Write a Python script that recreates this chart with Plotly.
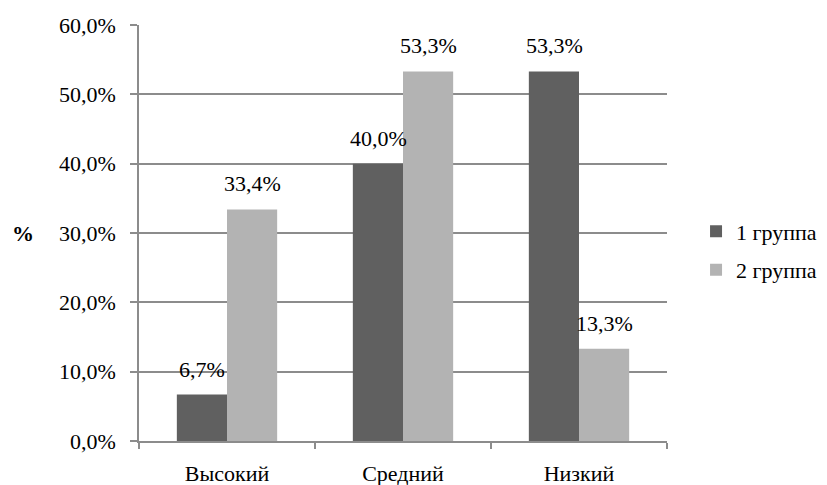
import plotly.graph_objects as go

categories = ["Высокий", "Средний", "Низкий"]
group1 = [6.7, 40.0, 53.3]
group2 = [33.4, 53.3, 13.3]
series_names = ["1 группа", "2 группа"]
colors = ["#606060", "#b3b3b3"]
y_ticks = [0, 10, 20, 30, 40, 50, 60]
y_tick_labels = [f"{v:.1f}%".replace(".", ",") for v in y_ticks]

font = dict(family="Liberation Serif", size=22, color="#000000")

fig = go.Figure()
for k, (name, vals, col) in enumerate(zip(series_names, [group1, group2], colors)):
    fig.add_trace(go.Bar(x=categories, y=vals, name=name, legendgroup=f"g{k}",
                         marker=dict(color=col, line=dict(width=0))))

annotations = []
for i, vals in enumerate([group1, group2]):
    shift = -25 if i == 0 else 25
    for c, v in zip(categories, vals):
        annotations.append(dict(
            x=c, y=v, xref="x", yref="y", text=f"{v:.1f}%".replace(".", ","),
            showarrow=False, yanchor="bottom", xshift=shift, yshift=11, font=font))

annotations.append(dict(x=0, xref="paper", xanchor="center", xshift=-116, y=30, yref="y",
                        text="<b>%</b>", showarrow=False, font=font))

fig.update_layout(
    width=819, height=477,
    margin=dict(l=131, r=160, t=17, b=44, autoexpand=False),
    paper_bgcolor="white", plot_bgcolor="white",
    barmode="group", bargap=0.43, bargroupgap=0,
    font=font,
    showlegend=True,
    legend=dict(x=1.055, y=0.457, yanchor="middle", xanchor="left", font=font,
                bgcolor="rgba(0,0,0,0)", itemwidth=30, tracegroupgap=7),
    annotations=annotations,
)
fig.update_xaxes(type="category", showline=True, linecolor="#8c8c8c", linewidth=1.5,
                 ticks="outside", tickson="boundaries", ticklen=6, tickcolor="#8c8c8c",
                 tickwidth=1.5, showgrid=False, tickfont=font, automargin=False,
                 ticklabelstandoff=12)
fig.update_yaxes(range=[0, 60], tickvals=y_ticks, ticktext=y_tick_labels,
                 showline=True, linecolor="#8c8c8c", linewidth=1.5, ticks="outside",
                 ticklen=7, tickcolor="#8c8c8c", tickwidth=1.5, showgrid=True,
                 gridcolor="#8c8c8c", gridwidth=1.5, zeroline=False, tickfont=font,
                 automargin=False, ticklabelstandoff=10)

fig.write_html("out.html")
